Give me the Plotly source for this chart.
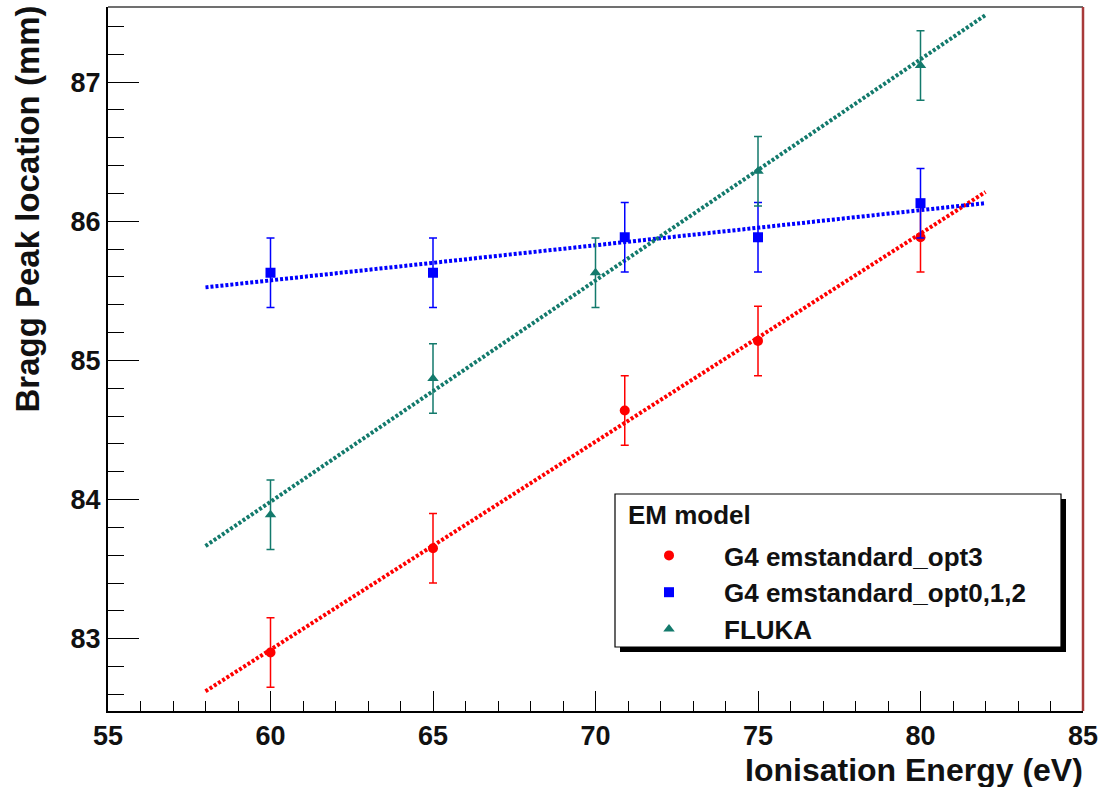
import numpy as np
import plotly.graph_objects as go

# ---- data ----
energy_opt3 = [60, 65, 70.9, 75, 80]
peak_opt3 = [82.90, 83.65, 84.64, 85.14, 85.885]
err_opt3 = [0.25, 0.25, 0.25, 0.25, 0.25]

energy_opt012 = [60, 65, 70.9, 75, 80]
peak_opt012 = [85.63, 85.63, 85.885, 85.885, 86.13]
err_opt012 = [0.25, 0.25, 0.25, 0.25, 0.25]

energy_fluka = [60, 65, 70, 75, 80]
peak_fluka = [83.89, 84.87, 85.63, 86.36, 87.12]
err_fluka = [0.25, 0.25, 0.25, 0.25, 0.25]

fit_range = [58, 82]
series_names = ["G4 emstandard_opt3", "G4 emstandard_opt0,1,2", "FLUKA"]
series_colors = ["#ff0000", "#0000ff", "#137a6c"]
series_symbols = ["circle", "square", "triangle-up"]
legend_header = "EM model"

FONT = "Liberation Sans, Arial, Helvetica, sans-serif"
W, H = 1117, 787
ML, MR, MT, MB = 108, 34, 7, 76
PW, PH = W - ML - MR, H - MT - MB


def px2paper(x, y):
    return (x - ML) / PW, (H - MB - y) / PH


fig = go.Figure()

datasets = [
    (energy_opt3, peak_opt3, err_opt3),
    (energy_opt012, peak_opt012, err_opt012),
    (energy_fluka, peak_fluka, err_fluka),
]

# fitted straight lines (least squares on each series)
for (xs, ys, _), col in zip(datasets, series_colors):
    slope, icpt = np.polyfit(xs, ys, 1)
    fx = np.array(fit_range, dtype=float)
    fig.add_trace(go.Scatter(
        x=fx, y=slope * fx + icpt, mode="lines",
        line=dict(color=col, width=4, dash="3px,2px"),
        showlegend=False, hoverinfo="skip"))

for (xs, ys, es), name, col, sym in zip(datasets, series_names, series_colors, series_symbols):
    fig.add_trace(go.Scatter(
        x=xs, y=ys, mode="markers", name=name, legendgroup=name,
        marker=dict(color=col, symbol=sym, size=10, line=dict(width=0)),
        error_y=dict(type="data", array=es, visible=True, color=col,
                     thickness=1.5, width=4)))

# legend box with shadow
bx0, by0 = px2paper(615, 494)
bx1, by1 = px2paper(1061, 647)
sx0, sy0 = px2paper(620, 499)
sx1, sy1 = px2paper(1066, 652)
lx, ly = px2paper(614, 532)
hx, hy = px2paper(626, 515)
shapes = [
    dict(type="rect", xref="paper", yref="paper", x0=sx0, x1=sx1, y0=sy1, y1=sy0,
         fillcolor="black", line=dict(width=0), layer="above"),
    dict(type="rect", xref="paper", yref="paper", x0=bx0, x1=bx1, y0=by1, y1=by0,
         fillcolor="white", line=dict(color="black", width=1.2), layer="above"),
    # top frame and right frame
    dict(type="line", xref="paper", yref="paper", x0=0, x1=1, y0=1, y1=1,
         line=dict(color="#707070", width=2)),
    dict(type="line", xref="paper", yref="paper", x0=1, x1=1, y0=0, y1=1,
         line=dict(color="#a83a3a", width=2.5)),
]

tickfont = dict(family=FONT, size=27, color="#111111", weight="bold")

fig.update_layout(
    width=W, height=H,
    margin=dict(l=ML, r=MR, t=MT, b=MB),
    plot_bgcolor="white", paper_bgcolor="white",
    showlegend=True,
    shapes=shapes,
    legend=dict(
        x=lx, y=ly, xanchor="left", yanchor="top",
        bgcolor="rgba(0,0,0,0)", borderwidth=0,
        font=dict(family=FONT, size=26, color="#111111", weight="bold"),
        itemwidth=100, tracegroupgap=0,
    ),
    xaxis=dict(
        range=[55, 85], showgrid=False, zeroline=False,
        showline=True, linecolor="black", linewidth=2,
        ticks="inside", ticklen=20, tickwidth=1.2, tickcolor="black",
        tickmode="linear", tick0=55, dtick=5,
        minor=dict(ticks="inside", ticklen=10, tickwidth=1.2, tickcolor="black", dtick=1, showgrid=False),
        tickfont=tickfont,
    ),
    yaxis=dict(
        range=[82.48, 87.54], showgrid=False, zeroline=False,
        showline=True, linecolor="black", linewidth=2,
        ticks="inside", ticklen=31, tickwidth=1.2, tickcolor="black",
        tickmode="linear", tick0=83, dtick=1,
        minor=dict(ticks="inside", ticklen=16, tickwidth=1.2, tickcolor="black", dtick=0.2, showgrid=False),
        tickfont=tickfont,
    ),
    annotations=[
        dict(text="Ionisation Energy (eV)", xref="paper", yref="paper", x=1, y=0,
             xanchor="right", yanchor="top", yshift=-39, xshift=2, showarrow=False,
             font=dict(family=FONT, size=32, color="#111111", weight="bold")),
        dict(text="Bragg Peak location (mm)", xref="paper", yref="paper", x=0, y=1,
             xanchor="center", yanchor="top", xshift=-81, yshift=3, textangle=-90,
             showarrow=False,
             font=dict(family=FONT, size=33, color="#111111", weight="bold")),
        dict(text=legend_header, xref="paper", yref="paper", x=hx, y=hy,
             xanchor="left", yanchor="middle", showarrow=False,
             font=dict(family=FONT, size=26, color="#111111", weight="bold")),
    ],
)

fig.write_html("out.html")
